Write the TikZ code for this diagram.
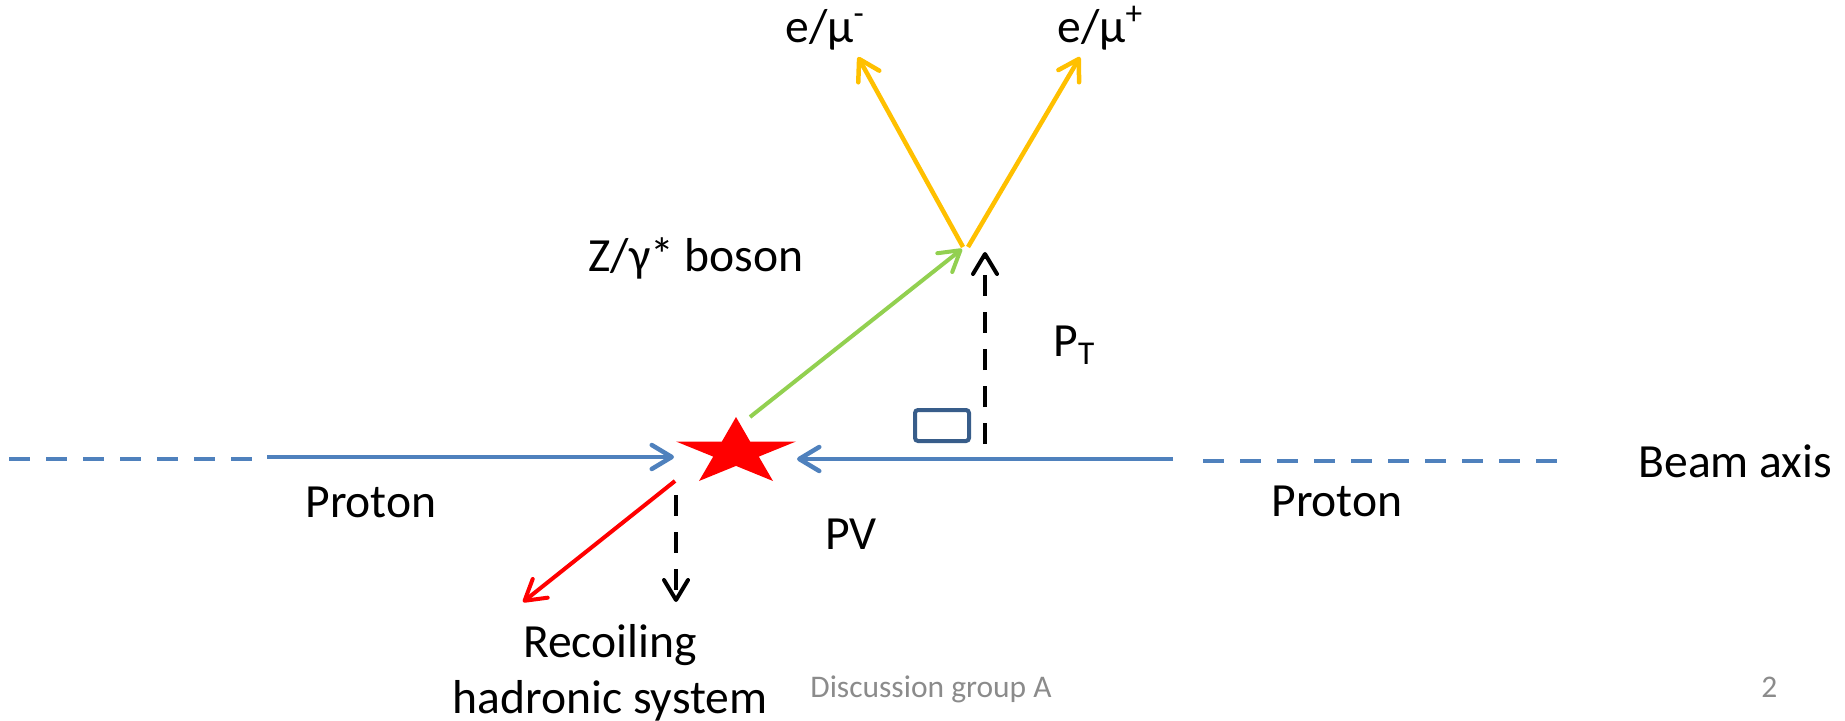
\documentclass[tikz,border=0pt]{standalone}
\usepackage{fontspec}
\setmainfont{Carlito}
\usepackage{tikz}
\usetikzlibrary{arrows.meta}
\definecolor{BeamBlue}{HTML}{4F81BD}
\definecolor{BoxBlue}{HTML}{385D8A}
\definecolor{LepOrange}{HTML}{FFC000}
\definecolor{BosGreen}{HTML}{92D050}
\definecolor{FootGray}{HTML}{8B8B8B}

\begin{document}
\begin{tikzpicture}[
  x=0.5pt,y=-0.5pt,
  lbl/.style={inner sep=0pt,anchor=base west,font=\fontsize{23.8}{29}\selectfont},
  foot/.style={inner sep=0pt,anchor=base west,text=FootGray,font=\fontsize{15.75}{19}\selectfont},
  a/.style={-{Straight Barb[length=10pt,width=12pt,round]}},
  beam/.style={line width=2.25pt,color=BeamBlue},
  dbeam/.style={beam,dash pattern=on 10.5pt off 8pt},
  pt/.style={a,line width=2pt,black,dash pattern=on 10.5pt off 8pt}
]
  \useasboundingbox (0,0) rectangle (1845,721);
  % primary vertex
  \fill[red] (736,417) -- (750.1,441.5) -- (796,441.5) -- (758.8,456.6)
    -- (773,481) -- (736,465.9) -- (699,481) -- (713.2,456.6)
    -- (676,441.5) -- (721.9,441.5) -- cycle;
  \coordinate (pv) at (736,452);
  \node[draw=BoxBlue,line width=2pt,rounded corners=1.5pt,minimum width=27pt,
    minimum height=15.5pt,inner sep=0pt] (perp) at (942,425.5) {};

  \node[lbl] (lepm) at (785,43) {e/μ\textsuperscript{-}};
  \node[lbl] (lepp) at (1057,43) {e/μ\textsuperscript{+}};
  \node[lbl] (zlbl) at (588,272) {Z/γ* boson};
  \node[lbl] (ptlbl) at (1053,357) {P\textsubscript{T}};
  \node[lbl] (protl) at (305,517) {Proton};
  \node[lbl] (protr) at (1271,516) {Proton};
  \node[lbl] (pvlbl) at (825,549) {PV};
  \node[lbl] (axis) at (1638,477) {Beam axis};
  \node[lbl,anchor=base,align=center,font=\fontsize{23.8}{28}\selectfont]
    (recoil) at (610,713) {Recoiling\\hadronic system};
  \node[foot] (group) at (810,697) {Discussion group A};
  \node[foot] (page) at (1761,697) {2};

  \coordinate (lfar) at (9,459);
  \coordinate (lend) at (253,459);
  \coordinate (lin) at (267,457);
  \coordinate (pvl) at ([xshift=-31pt,yshift=-2.5pt]pv);
  \coordinate (pvr) at ([xshift=30.5pt,yshift=-3.5pt]pv);
  \coordinate (rin) at (1173,459);
  \coordinate (rend) at (1203,461);
  \coordinate (rfar) at (1562,461);
  \coordinate (zfrom) at (750,417);
  \coordinate (zto) at (962,249);
  \coordinate (dkl) at (963,247);
  \coordinate (dkr) at (968,247);
  \coordinate (lm) at (858,57);
  \coordinate (lp) at (1080,57);
  \coordinate (hfrom) at (675,481);
  \coordinate (hto) at (523,602);
  \coordinate (rcfrom) at (676,495);
  \coordinate (rcto) at (676,602);
  \coordinate (ptfrom) at (985,444);
  \coordinate (ptto) at (985,252);

  \draw[dbeam] (lfar) -- (lend);
  \draw[beam,a] (lin) -- (pvl);
  \draw[beam,a] (rin) -- (pvr);
  \draw[dbeam] (rend) -- (rfar);
  \draw[a,line width=2pt,BosGreen] (zfrom) -- (zto);
  \draw[a,line width=2.25pt,LepOrange] (dkl) -- (lm);
  \draw[a,line width=2.25pt,LepOrange] (dkr) -- (lp);
  \draw[a,line width=2pt,red] (hfrom) -- (hto);
  \draw[pt] (rcfrom) -- (rcto);
  \draw[pt] (ptfrom) -- (ptto);
\end{tikzpicture}
\end{document}
